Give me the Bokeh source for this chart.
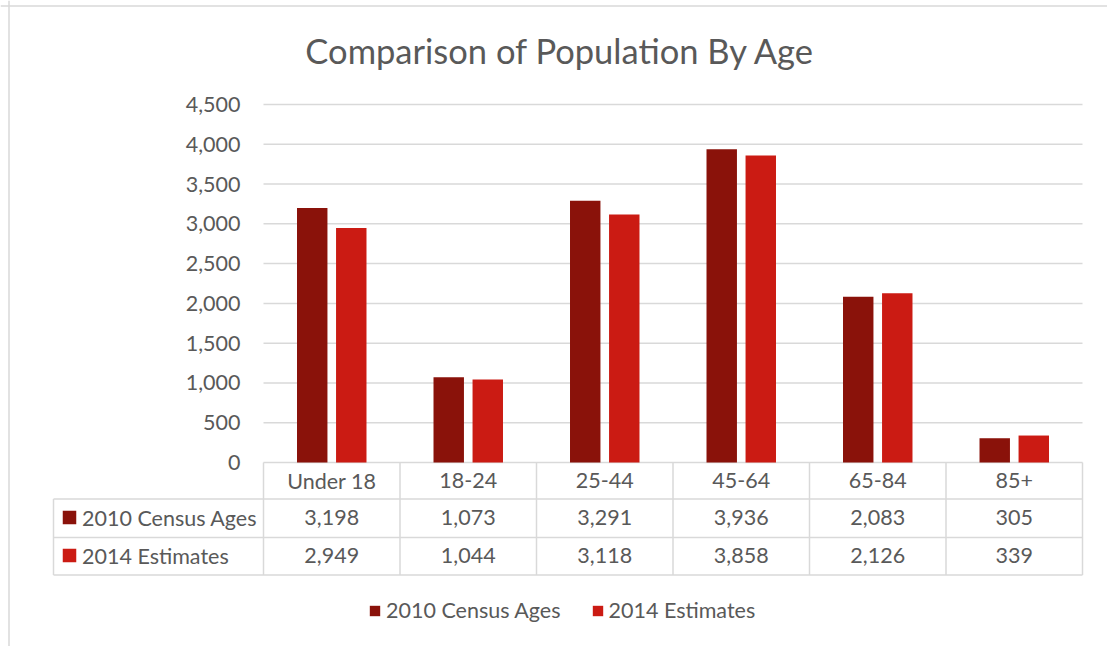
from bokeh.plotting import figure
from bokeh.models import (LinearAxis, FixedTicker, NumeralTickFormatter, Range1d,
                          Legend, LegendItem, Label, Span, ColumnDataSource)
from bokeh.core.properties import value
from bokeh.embed import file_html
from bokeh.resources import INLINE

# ---------------- data ----------------
categories = ["Under 18", "18-24", "25-44", "45-64", "65-84", "85+"]
series_names = ["2010 Census Ages", "2014 Estimates"]
census_2010 = [3198, 1073, 3291, 3936, 2083, 305]
estimates_2014 = [2949, 1044, 3118, 3858, 2126, 339]
y_ticks = [0, 500, 1000, 1500, 2000, 2500, 3000, 3500, 4000, 4500]
title_text = "Comparison of Population By Age"

# ---------------- style ----------------
C2010 = "#8A120A"
C2014 = "#CB1B13"
TXT = "#595959"
GRID = "#d9d9d9"
FONT = "Lato"
FS = "21.5px"

W, H = 1107, 646
OFF = 0  # observed page offset of the figure
plot_left_px, plot_right_px = 263.0, 1082.0
zero_px, top_px = 462.0, 104.0
ymax = 4500.0
px_per_cat = (plot_right_px - plot_left_px) / len(categories)
k = ymax / (zero_px - top_px)       # data units per pixel (vertical)

x_start = (OFF - plot_left_px) / px_per_cat
x_end = (OFF + W - plot_left_px) / px_per_cat
y_end = (zero_px - OFF) * k
y_start = (zero_px - (OFF + H)) * k

p = figure(width=W, height=H, output_backend="svg", toolbar_location=None,
           x_axis_type=None, y_axis_type=None,
           x_range=Range1d(x_start, x_end), y_range=Range1d(y_start, y_end),
           min_border=0, min_border_left=0, min_border_right=0,
           min_border_top=0, min_border_bottom=0)
p.outline_line_color = None
p.background_fill_color = "white"
p.border_fill_color = "white"

# chart border (left + top visible)
p.add_layout(Span(location=(8.5 - plot_left_px) / px_per_cat, dimension="height",
                  line_color=GRID, line_width=1.5))
p.add_layout(Span(location=(zero_px - 5.5) * k, dimension="width",
                  line_color=GRID, line_width=1.5))

n = len(categories)
x0, x1 = 0.0, float(n)

# gridlines
p.segment(x0=[x0] * len(y_ticks), x1=[x1] * len(y_ticks), y0=y_ticks, y1=y_ticks,
          line_color=GRID, line_width=1.5)

# y axis drawn at left edge of plot area
yax = LinearAxis(ticker=FixedTicker(ticks=y_ticks),
                 formatter=NumeralTickFormatter(format="0,0"))
yax.fixed_location = x0
yax.axis_line_color = None
yax.major_tick_line_color = None
yax.minor_tick_line_color = None
yax.major_tick_in = 0
yax.major_tick_out = 0
yax.major_label_standoff = 23
yax.major_label_text_font = FONT
yax.major_label_text_font_size = FS
yax.major_label_text_color = TXT
p.add_layout(yax, "left")

# bars
centers = [i + 0.5 for i in range(n)]
offset = 0.143
bw = 0.223
src = ColumnDataSource(dict(xc=centers, c2010=census_2010, c2014=estimates_2014,
                            x2010=[c - offset for c in centers],
                            x2014=[c + offset for c in centers]))
r1 = p.vbar(x="x2010", top="c2010", bottom=0, width=bw, source=src,
            fill_color=C2010, line_color=None)
r2 = p.vbar(x="x2014", top="c2014", bottom=0, width=bw, source=src,
            fill_color=C2014, line_color=None)

# ---------------- data table ----------------
label_left = (53 - plot_left_px) / px_per_cat
row_top1 = -36.5 * k
row_top2 = -75.0 * k
row_bot = -112.5 * k
hdr_c = -18.0 * k
row_c1 = -55.0 * k
row_c2 = -93.0 * k

p.segment(x0=[label_left, label_left, label_left], x1=[x1, x1, x1],
          y0=[row_top1, row_top2, row_bot], y1=[row_top1, row_top2, row_bot],
          line_color=GRID, line_width=1.5)
vx = [float(i) for i in range(n + 1)]
p.segment(x0=vx, x1=vx, y0=[0.0] * len(vx), y1=[row_bot] * len(vx),
          line_color=GRID, line_width=1.5)
p.segment(x0=[label_left], x1=[label_left], y0=[row_top1], y1=[row_bot],
          line_color=GRID, line_width=1.5)

tfont = dict(text_font=value(FONT), text_font_size=value(FS), text_color=TXT,
             text_align="center", text_baseline="middle")
p.text(x=centers, y=[hdr_c] * n, text=categories, **tfont)
p.text(x=centers, y=[row_c1] * n, text=[f"{v:,}" for v in census_2010], **tfont)
p.text(x=centers, y=[row_c2] * n, text=[f"{v:,}" for v in estimates_2014], **tfont)

sq_x = (69 - plot_left_px) / px_per_cat
lab_x = (81.5 - plot_left_px) / px_per_cat
p.scatter(x=[sq_x, sq_x], y=[row_c1, row_c2], marker="square", size=13.5,
          fill_color=[C2010, C2014], line_color=None)
p.text(x=[lab_x, lab_x], y=[row_c1, row_c2], text=series_names,
       text_font=value(FONT), text_font_size=value(FS), text_color=TXT,
       text_align="left", text_baseline="middle")

# ---------------- title ----------------
p.add_layout(Label(x=560 - OFF, y=H - (50 - OFF), x_units="screen", y_units="screen",
                   text=title_text, text_font=FONT, text_font_size="34.5px",
                   text_color=TXT, text_align="center", text_baseline="middle"))

# ---------------- legend ----------------
legend = Legend(items=[LegendItem(label=series_names[0], renderers=[r1]),
                       LegendItem(label=series_names[1], renderers=[r2])],
                orientation="horizontal",
                location=(368 - OFF, H - (623 - OFF)),
                glyph_width=13, glyph_height=13, label_standoff=5, spacing=30,
                padding=0, margin=0, border_line_color=None,
                background_fill_alpha=0,
                label_text_font=FONT, label_text_font_size=FS,
                label_text_color=TXT)
p.add_layout(legend)

open("out.html", "w").write(file_html(p, INLINE))
